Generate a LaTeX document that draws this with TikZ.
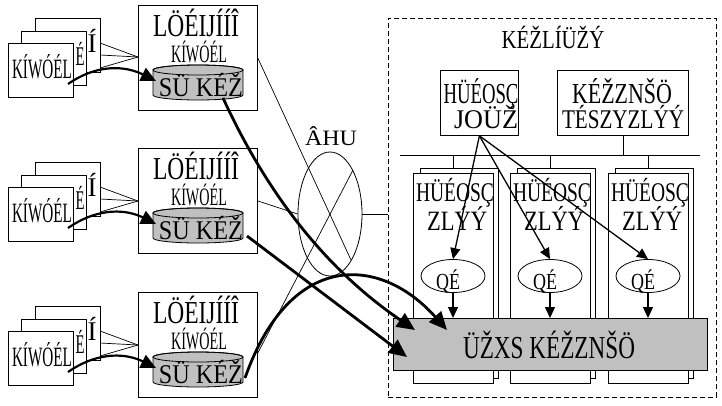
\documentclass[tikz,border=0pt]{standalone}
\usepackage{fontspec}
\usepackage{graphicx}
\usetikzlibrary{arrows.meta,shapes.geometric}
\newfontfamily\gfont{Liberation Serif}
\newcommand\gt[3]{\resizebox{#2pt}{\height}{\fontsize{#1}{#1}\selectfont\gfont #3}}
\definecolor{fillgray}{RGB}{192,192,192}
\begin{document}
\begin{tikzpicture}[x=1pt,y=-1pt,
  bx/.style={draw, fill=white, line width=0.8pt, inner sep=0pt, anchor=north west},
  tl/.style={line width=0.7pt},
  txt/.style={inner sep=0pt, anchor=base},
  midarrow/.style={line width=2.2pt, -{Triangle[length=15pt,width=14pt]}},
  bigarrow/.style={line width=2.8pt, -{Triangle[length=18pt,width=16pt]}},
  smallarrow/.style={line width=1.3pt, -{Triangle[length=11pt,width=10pt]}}]
\useasboundingbox (0,0) rectangle (722,405);

% network ellipse
\node[ellipse, draw, line width=0.8pt, minimum width=64pt, minimum height=124pt, inner sep=0pt] (net) at (330,214) {};
\node[txt] (netl) at (331,145) {\gt{22}{52}{ÂHU}};

% left rows
\foreach \o/\s/\r in {0/0/1,143/144/2,287/288/3}{
  \coordinate (cv\r) at (138,57+\s);
  \draw[tl] (100,43+\s) -- (cv\r);
  \draw[tl] (100,55+\s) -- (cv\r);
  \draw[tl] (100,68+\s) -- (cv\r);
  \node[bx, minimum width=65pt, minimum height=54pt] (sa\r) at (35,18+\s) {};
  \node[bx, minimum width=65pt, minimum height=54pt] (sb\r) at (21,31+\s) {};
  \node[txt] at (92,52+\s) {\gt{27}{9}{Í}};
  \node[bx, minimum width=65pt, minimum height=54pt] (sc\r) at (8,43+\s) {};
  \node[txt] at (80,65+\s) {\gt{27}{9}{É}};
  \node[txt] at (42,78+\s) {\gt{28}{60}{KÍWÓÉL}};
  \node[bx, minimum width=119pt, minimum height=105pt] (rb\r) at (138,5+\o) {};
  \node[txt] at (196,36+\o) {\gt{32}{86}{LÖÉIJÍÍÎ}};
  \node[txt] at (199,62+\o) {\gt{25}{56}{KÍWÓÉL}};
  \filldraw[fill=fillgray, line width=0.8pt] (153,70+\o) -- (153,95+\o)
     arc[start angle=180, end angle=0, x radius=45, y radius=5] -- (243,70+\o)
     arc[start angle=0, end angle=-180, x radius=45, y radius=5] -- cycle;
  \draw[line width=0.8pt] (198,70+\o) ellipse [x radius=45, y radius=5];
  \node[txt] (cyt\r) at (201,96+\o) {\gt{27}{84}{SÜ KÉŽ}};
  \coordinate (cyl\r) at (156,81+\o);
  \coordinate (st\r) at (68,84+\s);
}

% thin links to network
\coordinate (x1) at (351,260);
\coordinate (x2) at (353,170);
\draw[tl] ([yshift=-53pt]rb1.north east) -- (x1);
\draw[tl] ([yshift=-61pt]rb3.north east) -- (x2);
\draw[tl] (rb2.east) -- (net.west);

% dashed region
\node[draw, dash pattern=on 5pt off 3pt, line width=0.8pt, minimum width=328pt, minimum height=379pt, inner sep=0pt, anchor=north west] (dz) at (388,18) {};
\draw[tl] (net.east) -- (net.east -| dz.west);
\node[txt] at (553,48) {\gt{26}{103}{KÉŽLÍÜŽÝ}};

\node[bx, minimum width=78pt, minimum height=65pt] (jb) at (440,70) {};
\node[txt] at (481,103) {\gt{29}{75}{HÜÉOSÇ}};
\node[txt] at (486,128) {\gt{27}{64}{JOÜŽ}};
\node[bx, minimum width=131pt, minimum height=65pt] (kb) at (557,70) {};
\node[txt] at (622,103) {\gt{29}{100}{KÉŽZNŠÖ}};
\node[txt] at (623,128) {\gt{27}{122}{TÉSZYZLÝÝ}};

\coordinate (busL) at (400,155);
\coordinate (busR) at (700,155);
\draw[tl] (busL) -- (busR);
\draw[tl] (kb.south) -- (kb.south |- busL);

\foreach \c/\x in {1/0,2/97,3/195}{
  \node[bx, minimum width=78pt, minimum height=210pt] (cb\c) at (420+\x,168) {};
  \draw[tl] ([xshift=-6pt]cb\c.north) -- ([xshift=-6pt]cb\c.north |- busL);
  \node[bx, minimum width=80pt, minimum height=210pt] (cf\c) at (413+\x,173) {};
  \node[txt] at (455+\x,201) {\gt{27}{78}{HÜÉOSÇ}};
  \node[txt] at (457+\x,230) {\gt{28}{60}{ZLÝÝ}};
  \node[ellipse, draw, fill=white, line width=0.8pt, minimum width=64pt, minimum height=33pt, inner sep=0pt] (q\c) at (453+\x,276) {};
  \node[txt] at (448+\x,289) {\gt{23}{24}{QÉ}};
}

\node[draw, fill=fillgray, line width=0.8pt, minimum width=314pt, minimum height=52pt, inner sep=0pt, anchor=north west] (gb) at (393,318) {};
\node[txt] at (549,358) {\gt{32}{172}{ÜŽXS KÉŽZNŠÖ}};

\foreach \c in {1,2,3}{
  \draw[smallarrow] (jb.south) -- (q\c.north);
  \draw[smallarrow] (q\c.south) -- (q\c.south |- gb.north);
}

% thick arrows
\foreach \r in {1,2,3}{
  \draw[midarrow] (st\r) .. controls ([shift={(32,-22)}]st\r) and ([shift={(-28,-14)}]cyl\r) .. (cyl\r);
}
\coordinate (t1) at (415,330);
\coordinate (t2) at (407,357);
\coordinate (t3) at (447,330);
\coordinate (s1) at (223,98);
\coordinate (s2) at (247,236);
\coordinate (s3) at (245,378);
\draw[bigarrow] (s1) .. controls (270,200) and (330,272) .. (t1);
\draw[bigarrow] (s2) -- (t2);
\draw[bigarrow] (s3) .. controls (290,250) and (380,255) .. (t3);
\end{tikzpicture}
\end{document}
